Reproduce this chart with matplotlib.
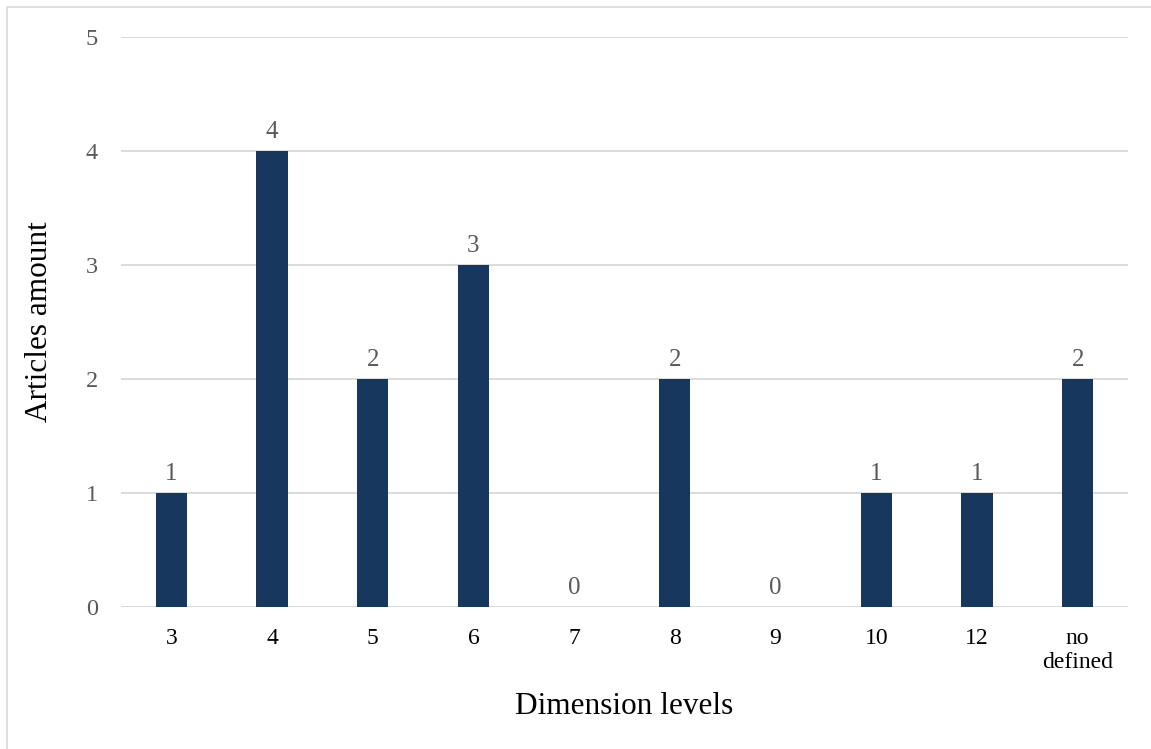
import matplotlib
matplotlib.use("Agg")
import matplotlib.pyplot as plt
from matplotlib.lines import Line2D

categories = ["3", "4", "5", "6", "7", "8", "9", "10", "12", "no\ndefined"]
articles = [1, 4, 2, 3, 0, 2, 0, 1, 1, 2]
y_ticks = [0, 1, 2, 3, 4, 5]

bar_color = "#17375E"
grid_color = "#D9D9D9"
label_gray = "#595959"
serif = ["Liberation Serif", "DejaVu Serif"]

W, H = 1151, 749
fig = plt.figure(figsize=(W / 100, H / 100), dpi=100)
ax = fig.add_axes([121 / W, 1 - 607 / H, 1007 / W, 570 / H])

x = list(range(len(categories)))
ax.bar(x, articles, width=0.31, color=bar_color, zorder=3)

for xi, v in zip(x, articles):
    ax.annotate(str(v), (xi, v), xytext=(0, 6), textcoords="offset points",
                ha="center", va="bottom", fontsize=18, color=label_gray,
                family=serif)

ax.set_xlim(-0.5, len(categories) - 0.5)
ax.set_ylim(0, 5)
ax.set_yticks(y_ticks)
ax.set_yticklabels([str(t) for t in y_ticks], fontsize=17.5, color=label_gray,
                   family=serif)
ax.set_xticks(x)
ax.set_xticklabels(categories, fontsize=17, color="black", family=serif,
                   linespacing=1.2, va="top")
ax.tick_params(axis="both", length=0)
ax.tick_params(axis="y", pad=16.5)
ax.tick_params(axis="x", pad=15)

ax.yaxis.grid(True, color=grid_color, linewidth=1.3, zorder=0)
for s in ax.spines.values():
    s.set_visible(False)

ax.set_xlabel("Dimension levels", fontsize=22.5, family=serif, va="center")
ax.xaxis.set_label_coords(624 / W, 1 - 707 / H, transform=fig.transFigure)
ax.set_ylabel("Articles amount", fontsize=22.5, family=serif, va="center")
ax.yaxis.set_label_coords(40 / W, 1 - 322 / H, transform=fig.transFigure)

# thin frame along the top and left edges
fig.add_artist(Line2D([7 / W, 7 / W, 1.0], [0.0, 1 - 7 / H, 1 - 7 / H],
                      transform=fig.transFigure, color="#D9D9D9", linewidth=1.2))

fig.savefig("out.png", dpi=100)
